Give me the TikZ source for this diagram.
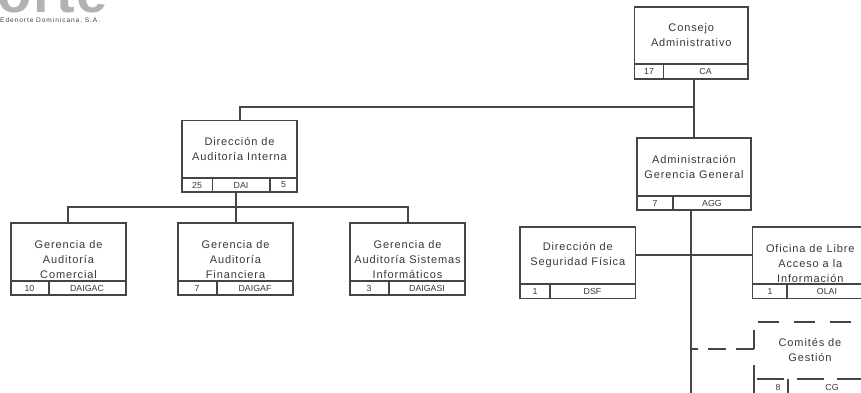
\documentclass[tikz,border=0pt]{standalone}
\usepackage{fontspec}
\setmainfont{Liberation Sans}
\definecolor{ink}{gray}{0.27}
\definecolor{txt}{gray}{0.22}
\definecolor{logo}{gray}{0.7}
\tikzset{x=1pt,y=-1pt,
 frame/.style={draw=ink,line width=1.4pt,fill=white},
 conn/.style={draw=ink,line width=1.6pt},
 thinline/.style={draw=ink,line width=1.2pt},
 lbl/.style={text=txt,font=\fontsize{11}{15}\selectfont\addfontfeature{LetterSpace=8},align=center,inner sep=0pt},
 cell/.style={text=txt,font=\fontsize{8.8}{10}\selectfont,inner sep=0pt}}
\newcommand{\orgbox}[9]{% name x1 y1 x2 y2 divider-y inner-x text text-yshift
 \node[frame,minimum width=#4pt-#2pt,minimum height=#5pt-#3pt,anchor=north west,inner sep=0pt,outer sep=0pt] (#1) at (#2,#3) {};
 \draw[thinline] (#2,#6) -- (#4,#6) (#7,#6) -- (#7,#5);
 \node[lbl] (#1t) at ({(#2+#4)/2},{(#3+#6)/2+#9}) {#8};
}
\begin{document}
\begin{tikzpicture}
\useasboundingbox (0,0) rectangle (861,393);
\fill[white] (0,0) rectangle (861,393);
\begin{scope}
\clip (0,0) rectangle (861,393);
% logo
\node[text=logo,font=\bfseries\fontsize{56}{56}\selectfont\addfontfeature{LetterSpace=3},anchor=base west,inner sep=0pt] (logo) at (-3,13) {orte};
\node[text=ink,font=\fontsize{6.6}{7}\selectfont\addfontfeature{LetterSpace=14},anchor=west,inner sep=0pt] (logosub) at (0,20.5) {Edenorte Dominicana, S.A.};
% connectors
\coordinate (top) at (240,107);
\coordinate (junc) at (694,107);
\coordinate (dl) at (68,207);
\coordinate (dr) at (408,207);
\coordinate (dm) at (236,207);
\coordinate (bottom) at (691,393);
\coordinate (cgj) at (754,349);
\draw[conn] (694,79) -- (694,138);
\draw[conn] (junc) -- (top) -- (240,121);
\draw[conn] (dm) -- (236,192);
\draw[conn] (68,223) -- (dl) -- (dr) -- (408,223);
\draw[conn] (236,207) -- (236,223);
\draw[conn] (691,210) -- (bottom);
\draw[conn] (636,255) -- (753,255);
\draw[thinline] (754,330) -- (cgj);
\draw[thinline,dash pattern=on 18pt off 10pt] (cgj) -- (691,349);
\draw[thinline] (754,393) -- (754,365);
\draw[thinline,dash pattern=on 21pt off 15pt] (758,322) -- (861,322);
\draw[thinline,dash pattern=on 27pt off 13pt] (757,379) -- (861,379);
\draw[thinline] (788,379) -- (788,393);
\node[lbl] (cgt) at (810,350.5) {Comités de\\Gestión};
\node[cell] (cg1) at (778,387) {8};
\node[cell] (cg2) at (832,387) {CG};
\end{scope}
\orgbox{ca}{634.5}{7}{748}{79}{64}{663.5}{Consejo\\Administrativo}{0}
\node[cell] (ca1) at (649,71.5) {17};
\node[cell] (ca2) at (705.5,71.5) {CA};
\orgbox{agg}{637}{138}{751}{210}{196}{673}{Administración\\Gerencia General}{0}
\node[cell] (agg1) at (655,203) {7};
\node[cell] (agg2) at (712,203) {AGG};
\orgbox{dai}{182}{120.5}{297}{192}{178}{212.5}{Dirección de\\Auditoría Interna}{0}
\draw[thinline] (270,178) -- (270,192);
\node[cell] (dai1) at (197,185) {25};
\node[cell] (dai2) at (241,185) {DAI};
\node[cell] (dai3) at (283.5,185) {5};
\orgbox{ga}{11}{223}{126}{295}{281}{49}{Gerencia de\\Auditoría\\Comercial}{8}
\node[cell] (ga1) at (29.5,288) {10};
\node[cell] (ga2) at (87,288) {DAIGAC};
\orgbox{gf}{178}{223}{293}{295}{281}{217}{Gerencia de\\Auditoría\\Financiera}{8}
\node[cell] (gf1) at (197,288) {7};
\node[cell] (gf2) at (255,288) {DAIGAF};
\orgbox{gs}{350}{223}{465}{295}{281}{389}{Gerencia de\\Auditoría Sistemas\\Informáticos}{8}
\node[cell] (gs1) at (369,288) {3};
\node[cell] (gs2) at (427,288) {DAIGASI};
\orgbox{dsf}{520}{227}{635.5}{298.5}{284}{550}{Dirección de\\Seguridad Física}{0}
\node[cell] (dsf1) at (535,291) {1};
\node[cell] (dsf2) at (592.5,291) {DSF};
\begin{scope}
\clip (0,0) rectangle (861,393);
\orgbox{ol}{752.5}{227}{868}{298.5}{284}{787}{Oficina de Libre\\Acceso a la\\Información}{8}
\node[cell] (ol1) at (770,291) {1};
\node[cell] (ol2) at (827,291) {OLAI};
\end{scope}
\end{tikzpicture}
\end{document}
